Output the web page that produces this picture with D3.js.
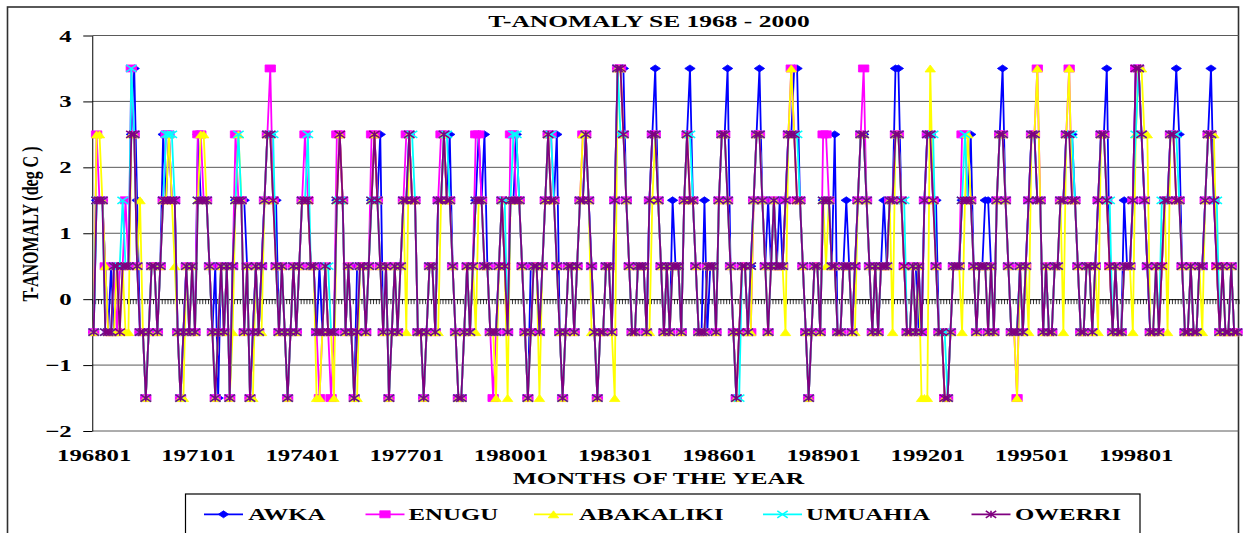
<!DOCTYPE html>
<html>
<head>
<meta charset="utf-8">
<script src="https://cdn.jsdelivr.net/npm/d3@7"></script>
<style>
  html, body { margin: 0; padding: 0; background: #fff; }
  svg { display: block; }
  text { font-family: "Liberation Serif", "Times New Roman", serif; font-weight: bold; fill: #000; }
</style>
</head>
<body>
<svg id="chart" width="1244" height="533"></svg>
<script>
// ---------------- DATA ----------------
const firstYear = 1968;
const lastYear = 2000;
const tickLabels = ["196801","197101","197401","197701","198001","198301","198601","198901","199201","199501","199801"];
const yTicks = [-2, -1, 0, 1, 2, 3, 4];
const seriesNames = ["AWKA", "ENUGU", "ABAKALIKI", "UMUAHIA", "OWERRI"];

// monthly anomalies (deg C), one row per year Jan..Dec
const AWKA = [
 -0.5,1.5,1.5,1.5,0.5,-0.5,0.5,-0.5,-0.5,0.5,0.5,0.5,
 0.5,2.5,3.5,1.5,-0.5,-0.5,-1.5,-0.5,0.5,0.5,-0.5,0.5,
 2.5,1.5,2.5,1.5,1.5,-0.5,-1.5,-0.5,0.5,0.5,0.5,-0.5,
 2.5,1.5,1.5,1.5,0.5,-0.5,0.5,-1.5,0.5,-0.5,0.5,-1.5,
 0.5,1.5,1.5,1.5,1.5,0.5,-1.5,-0.5,0.5,-0.5,0.5,1.5,
 2.5,2.5,1.5,1.5,-0.5,0.5,-0.5,-1.5,-0.5,0.5,-0.5,0.5,
 1.5,1.5,1.5,0.5,0.5,-0.5,0.5,-0.5,0.5,-0.5,-0.5,-0.5,
 1.5,2.5,1.5,-0.5,0.5,-0.5,-1.5,0.5,0.5,0.5,-0.5,0.5,
 1.5,2.5,1.5,2.5,-0.5,0.5,-1.5,-0.5,0.5,0.5,0.5,1.5,
 1.5,2.5,1.5,1.5,-0.5,-0.5,-1.5,-0.5,0.5,0.5,-0.5,1.5,
 1.5,2.5,1.5,2.5,0.5,-0.5,-1.5,-1.5,-0.5,0.5,-0.5,0.5,
 1.5,2.5,1.5,2.5,0.5,-0.5,-0.5,-0.5,0.5,1.5,0.5,-0.5,
 1.5,1.5,2.5,1.5,0.5,-0.5,-1.5,0.5,0.5,0.5,-0.5,0.5,
 1.5,2.5,1.5,1.5,2.5,-0.5,-1.5,-0.5,0.5,0.5,-0.5,0.5,
 1.5,1.5,2.5,1.5,0.5,-0.5,-1.5,-0.5,-0.5,0.5,0.5,-0.5,
 1.5,3.5,3.5,3.5,1.5,0.5,-0.5,-0.5,0.5,0.5,0.5,-0.5,
 1.5,2.5,3.5,1.5,0.5,-0.5,0.5,-0.5,1.5,0.5,0.5,-0.5,
 1.5,2.5,3.5,1.5,0.5,-0.5,-0.5,1.5,-0.5,0.5,0.5,-0.5,
 1.5,2.5,2.5,3.5,0.5,-0.5,-1.5,-0.5,0.5,0.5,-0.5,0.5,
 1.5,2.5,3.5,1.5,0.5,1.5,0.5,1.5,0.5,1.5,0.5,1.5,
 2.5,2.5,3.5,3.5,1.5,0.5,-0.5,-1.5,-0.5,0.5,0.5,-0.5,
 1.5,1.5,1.5,0.5,2.5,-0.5,-0.5,0.5,1.5,0.5,-0.5,0.5,
 1.5,2.5,2.5,1.5,0.5,-0.5,0.5,-0.5,0.5,1.5,0.5,1.5,
 1.5,3.5,3.5,1.5,0.5,-0.5,-0.5,0.5,0.5,-0.5,-0.5,1.5,
 2.5,2.5,1.5,1.5,-0.5,-0.5,-1.5,-1.5,-0.5,0.5,0.5,0.5,
 1.5,1.5,1.5,2.5,0.5,-0.5,0.5,0.5,1.5,1.5,0.5,-0.5,
 1.5,2.5,3.5,1.5,0.5,-0.5,-0.5,-0.5,0.5,-0.5,0.5,1.5,
 2.5,2.5,1.5,1.5,-0.5,0.5,-0.5,-0.5,0.5,0.5,1.5,1.5,
 2.5,2.5,2.5,1.5,0.5,-0.5,-0.5,0.5,0.5,-0.5,0.5,1.5,
 2.5,2.5,3.5,0.5,-0.5,0.5,-0.5,-0.5,1.5,0.5,0.5,1.5,
 3.5,3.5,2.5,1.5,0.5,-0.5,-0.5,-0.5,-0.5,0.5,1.5,1.5,
 2.5,2.5,3.5,2.5,0.5,-0.5,-0.5,0.5,-0.5,-0.5,0.5,0.5,
 1.5,2.5,3.5,1.5,0.5,-0.5,-0.5,-0.5,-0.5,0.5,-0.5,-0.5
];
const ENUGU = [
 -0.5,2.5,1.5,1.5,0.5,-0.5,-0.5,0.5,-0.5,0.5,0.5,1.5,
 0.5,3.5,2.5,0.5,-0.5,-0.5,-1.5,-0.5,0.5,0.5,-0.5,0.5,
 1.5,2.5,2.5,1.5,1.5,-0.5,-1.5,-0.5,0.5,-0.5,0.5,-0.5,
 2.5,2.5,1.5,1.5,0.5,-0.5,-1.5,-0.5,0.5,-0.5,0.5,-1.5,
 0.5,2.5,1.5,1.5,-0.5,0.5,-1.5,-0.5,0.5,-0.5,0.5,1.5,
 2.5,3.5,1.5,0.5,-0.5,0.5,-0.5,-1.5,-0.5,0.5,-0.5,0.5,
 1.5,2.5,1.5,0.5,0.5,-0.5,-1.5,-0.5,0.5,-0.5,-1.5,-0.5,
 2.5,2.5,1.5,-0.5,0.5,-0.5,-1.5,-0.5,0.5,0.5,-0.5,0.5,
 2.5,2.5,1.5,0.5,-0.5,0.5,-1.5,-0.5,0.5,-0.5,0.5,1.5,
 2.5,2.5,1.5,1.5,-0.5,-0.5,-1.5,-0.5,0.5,0.5,-0.5,1.5,
 2.5,2.5,1.5,1.5,0.5,-0.5,-1.5,-1.5,-0.5,0.5,-0.5,0.5,
 2.5,2.5,1.5,0.5,0.5,-0.5,-1.5,-0.5,0.5,1.5,0.5,-0.5,
 2.5,2.5,1.5,1.5,0.5,-0.5,-1.5,-0.5,0.5,0.5,-0.5,0.5,
 1.5,2.5,2.5,1.5,0.5,-0.5,-1.5,-0.5,0.5,0.5,-0.5,0.5,
 1.5,2.5,2.5,1.5,0.5,-0.5,-1.5,-0.5,-0.5,0.5,0.5,-0.5,
 1.5,3.5,3.5,2.5,1.5,0.5,-0.5,-0.5,0.5,0.5,0.5,-0.5,
 1.5,2.5,2.5,1.5,0.5,-0.5,0.5,-0.5,0.5,0.5,0.5,-0.5,
 1.5,2.5,1.5,1.5,0.5,-0.5,-0.5,-0.5,0.5,0.5,0.5,-0.5,
 1.5,2.5,2.5,1.5,0.5,-0.5,-1.5,-0.5,0.5,0.5,-0.5,-0.5,
 1.5,2.5,2.5,1.5,0.5,-0.5,0.5,1.5,0.5,0.5,0.5,1.5,
 2.5,3.5,2.5,1.5,1.5,0.5,-0.5,-1.5,-0.5,0.5,0.5,-0.5,
 2.5,2.5,1.5,0.5,0.5,-0.5,-0.5,0.5,0.5,0.5,-0.5,0.5,
 1.5,2.5,3.5,1.5,0.5,-0.5,0.5,-0.5,0.5,0.5,0.5,1.5,
 1.5,2.5,2.5,1.5,0.5,-0.5,-0.5,0.5,-0.5,0.5,-0.5,1.5,
 2.5,2.5,1.5,0.5,-0.5,-0.5,-1.5,-1.5,-0.5,0.5,0.5,0.5,
 2.5,2.5,1.5,1.5,0.5,-0.5,0.5,0.5,0.5,-0.5,0.5,-0.5,
 1.5,2.5,2.5,1.5,0.5,-0.5,-0.5,-1.5,0.5,-0.5,0.5,1.5,
 2.5,2.5,3.5,1.5,-0.5,0.5,-0.5,-0.5,0.5,0.5,1.5,1.5,
 2.5,3.5,1.5,1.5,0.5,-0.5,-0.5,0.5,0.5,-0.5,0.5,1.5,
 2.5,2.5,1.5,0.5,-0.5,0.5,-0.5,-0.5,0.5,0.5,0.5,1.5,
 3.5,3.5,2.5,1.5,0.5,-0.5,-0.5,0.5,-0.5,0.5,1.5,1.5,
 2.5,2.5,1.5,1.5,0.5,-0.5,-0.5,0.5,-0.5,-0.5,0.5,0.5,
 1.5,2.5,2.5,1.5,0.5,-0.5,0.5,-0.5,-0.5,0.5,-0.5,-0.5
];
const ABAKALIKI = [
 -0.5,2.5,2.5,1.5,0.5,-0.5,-0.5,-0.5,0.5,-0.5,0.5,-0.5,
 -0.5,2.5,2.5,0.5,1.5,-0.5,-1.5,-0.5,0.5,0.5,-0.5,0.5,
 1.5,1.5,2.5,1.5,0.5,-0.5,-1.5,-1.5,0.5,-0.5,0.5,-0.5,
 1.5,2.5,2.5,1.5,0.5,-0.5,-1.5,-0.5,0.5,-0.5,0.5,-1.5,
 -0.5,1.5,2.5,1.5,-0.5,0.5,-1.5,-1.5,0.5,-0.5,-0.5,1.5,
 2.5,2.5,1.5,0.5,-0.5,0.5,-0.5,-1.5,-0.5,0.5,-0.5,0.5,
 1.5,1.5,1.5,0.5,0.5,-1.5,-1.5,-0.5,0.5,-0.5,-0.5,-1.5,
 1.5,2.5,1.5,-0.5,0.5,-0.5,-1.5,-1.5,0.5,0.5,-0.5,0.5,
 1.5,2.5,1.5,0.5,-0.5,0.5,-1.5,-0.5,0.5,-0.5,0.5,1.5,
 -0.5,2.5,1.5,1.5,-0.5,-0.5,-1.5,-0.5,0.5,0.5,-0.5,-0.5,
 1.5,2.5,1.5,1.5,0.5,-0.5,-1.5,-1.5,-0.5,0.5,-0.5,0.5,
 -0.5,1.5,1.5,0.5,0.5,-0.5,-0.5,-1.5,0.5,1.5,0.5,-1.5,
 1.5,1.5,1.5,1.5,0.5,-0.5,-1.5,-0.5,0.5,0.5,-1.5,0.5,
 1.5,2.5,1.5,1.5,0.5,-0.5,-1.5,-0.5,0.5,0.5,-0.5,0.5,
 1.5,2.5,2.5,1.5,-0.5,-0.5,-1.5,-0.5,-0.5,0.5,0.5,-0.5,
 -1.5,3.5,3.5,2.5,1.5,0.5,-0.5,-0.5,0.5,0.5,0.5,-0.5,
 -0.5,1.5,2.5,1.5,0.5,-0.5,0.5,-0.5,0.5,0.5,0.5,-0.5,
 1.5,2.5,1.5,1.5,0.5,-0.5,-0.5,-0.5,0.5,0.5,0.5,-0.5,
 1.5,2.5,2.5,1.5,0.5,-0.5,-1.5,-0.5,0.5,0.5,-0.5,-0.5,
 1.5,2.5,2.5,1.5,0.5,-0.5,0.5,1.5,0.5,0.5,0.5,-0.5,
 2.5,3.5,2.5,1.5,1.5,0.5,-0.5,-1.5,-0.5,0.5,0.5,-0.5,
 1.5,0.5,1.5,0.5,0.5,-0.5,-0.5,0.5,0.5,0.5,-0.5,-0.5,
 1.5,2.5,2.5,1.5,0.5,-0.5,0.5,-0.5,0.5,0.5,0.5,1.5,
 -0.5,2.5,2.5,1.5,0.5,-0.5,-0.5,0.5,-0.5,0.5,-1.5,-1.5,
 -1.5,3.5,1.5,0.5,-0.5,-0.5,-1.5,-1.5,-0.5,0.5,0.5,0.5,
 -0.5,1.5,2.5,1.5,0.5,-0.5,0.5,0.5,0.5,-0.5,0.5,-0.5,
 1.5,2.5,2.5,1.5,0.5,-0.5,-0.5,-1.5,0.5,-0.5,0.5,-0.5,
 2.5,2.5,3.5,1.5,-0.5,0.5,-0.5,-0.5,0.5,0.5,1.5,-0.5,
 2.5,3.5,1.5,1.5,0.5,-0.5,-0.5,0.5,0.5,-0.5,0.5,-0.5,
 2.5,2.5,1.5,0.5,-0.5,0.5,-0.5,-0.5,0.5,0.5,0.5,-0.5,
 2.5,3.5,3.5,2.5,2.5,-0.5,-0.5,0.5,-0.5,0.5,1.5,-0.5,
 2.5,2.5,1.5,1.5,0.5,-0.5,-0.5,0.5,-0.5,-0.5,0.5,-0.5,
 1.5,2.5,2.5,2.5,0.5,-0.5,0.5,-0.5,-0.5,0.5,-0.5,-0.5
];
const UMUAHIA = [
 -0.5,1.5,1.5,1.5,-0.5,-0.5,-0.5,0.5,0.5,0.5,1.5,0.5,
 0.5,3.5,2.5,0.5,-0.5,-0.5,-1.5,-0.5,0.5,0.5,-0.5,0.5,
 1.5,2.5,2.5,2.5,1.5,-0.5,-1.5,-0.5,0.5,-0.5,0.5,-0.5,
 1.5,1.5,1.5,1.5,0.5,-0.5,-1.5,-0.5,0.5,-0.5,0.5,-1.5,
 0.5,1.5,2.5,1.5,-0.5,0.5,-1.5,-0.5,0.5,-0.5,0.5,1.5,
 2.5,2.5,2.5,0.5,-0.5,0.5,-0.5,-1.5,-0.5,0.5,-0.5,0.5,
 1.5,1.5,2.5,0.5,0.5,-0.5,-0.5,-0.5,0.5,0.5,-0.5,-0.5,
 1.5,1.5,1.5,-0.5,0.5,-0.5,-1.5,-0.5,0.5,0.5,-0.5,0.5,
 1.5,1.5,1.5,0.5,-0.5,0.5,-1.5,-0.5,0.5,-0.5,0.5,1.5,
 1.5,2.5,2.5,1.5,-0.5,-0.5,-1.5,-0.5,0.5,0.5,-0.5,1.5,
 1.5,2.5,2.5,1.5,0.5,-0.5,-1.5,-1.5,-0.5,0.5,-0.5,0.5,
 1.5,1.5,1.5,0.5,0.5,-0.5,-0.5,-0.5,0.5,1.5,1.5,-0.5,
 1.5,2.5,2.5,1.5,0.5,-0.5,-1.5,-0.5,0.5,0.5,-0.5,0.5,
 1.5,2.5,2.5,1.5,0.5,-0.5,-1.5,-0.5,0.5,0.5,-0.5,0.5,
 1.5,1.5,2.5,1.5,0.5,-0.5,-1.5,-0.5,-0.5,0.5,0.5,-0.5,
 1.5,3.5,2.5,2.5,1.5,0.5,-0.5,-0.5,0.5,0.5,0.5,-0.5,
 1.5,2.5,2.5,1.5,0.5,-0.5,0.5,-0.5,0.5,0.5,0.5,-0.5,
 1.5,2.5,2.5,1.5,0.5,-0.5,-0.5,-0.5,0.5,0.5,0.5,-0.5,
 1.5,2.5,2.5,1.5,0.5,-0.5,-1.5,-1.5,0.5,0.5,-0.5,0.5,
 1.5,2.5,2.5,1.5,0.5,-0.5,0.5,1.5,0.5,0.5,0.5,1.5,
 2.5,2.5,2.5,2.5,1.5,0.5,-0.5,-1.5,-0.5,0.5,0.5,-0.5,
 1.5,1.5,1.5,0.5,0.5,-0.5,-0.5,0.5,0.5,0.5,-0.5,0.5,
 1.5,2.5,2.5,1.5,0.5,-0.5,0.5,-0.5,0.5,0.5,0.5,1.5,
 1.5,2.5,2.5,1.5,1.5,-0.5,-0.5,0.5,-0.5,0.5,-0.5,1.5,
 2.5,2.5,2.5,0.5,-0.5,-0.5,-0.5,-1.5,-0.5,0.5,0.5,0.5,
 1.5,2.5,1.5,1.5,0.5,-0.5,0.5,0.5,0.5,-0.5,0.5,-0.5,
 1.5,2.5,2.5,1.5,0.5,-0.5,-0.5,-0.5,0.5,-0.5,0.5,1.5,
 2.5,2.5,1.5,1.5,-0.5,0.5,-0.5,-0.5,0.5,0.5,1.5,1.5,
 2.5,2.5,2.5,1.5,0.5,-0.5,-0.5,0.5,0.5,-0.5,0.5,1.5,
 2.5,2.5,1.5,1.5,-0.5,0.5,-0.5,-0.5,0.5,0.5,0.5,1.5,
 2.5,3.5,2.5,1.5,0.5,-0.5,-0.5,0.5,-0.5,1.5,1.5,1.5,
 2.5,2.5,2.5,1.5,0.5,-0.5,-0.5,0.5,-0.5,-0.5,0.5,0.5,
 1.5,2.5,2.5,1.5,1.5,-0.5,0.5,-0.5,-0.5,0.5,-0.5,-0.5
];
const OWERRI = [
 -0.5,1.5,1.5,1.5,-0.5,-0.5,-0.5,0.5,0.5,-0.5,0.5,0.5,
 0.5,2.5,2.5,0.5,-0.5,-0.5,-1.5,-0.5,0.5,0.5,-0.5,0.5,
 1.5,1.5,1.5,1.5,1.5,-0.5,-1.5,-0.5,0.5,-0.5,0.5,-0.5,
 1.5,1.5,1.5,1.5,0.5,-0.5,-1.5,-0.5,0.5,-0.5,0.5,-1.5,
 0.5,1.5,1.5,1.5,-0.5,0.5,-1.5,-0.5,0.5,-0.5,0.5,1.5,
 2.5,2.5,1.5,0.5,-0.5,0.5,-0.5,-1.5,-0.5,0.5,-0.5,0.5,
 1.5,1.5,1.5,0.5,0.5,-0.5,-0.5,-0.5,0.5,-0.5,-0.5,-0.5,
 1.5,2.5,1.5,-0.5,0.5,-0.5,-1.5,-0.5,0.5,0.5,-0.5,0.5,
 1.5,2.5,1.5,0.5,-0.5,0.5,-1.5,-0.5,0.5,-0.5,0.5,1.5,
 1.5,2.5,1.5,1.5,-0.5,-0.5,-1.5,-0.5,0.5,0.5,-0.5,1.5,
 1.5,2.5,1.5,1.5,0.5,-0.5,-1.5,-1.5,-0.5,0.5,-0.5,0.5,
 1.5,1.5,1.5,0.5,0.5,-0.5,-0.5,-0.5,0.5,1.5,0.5,-0.5,
 1.5,1.5,1.5,1.5,0.5,-0.5,-1.5,-0.5,0.5,0.5,-0.5,0.5,
 1.5,2.5,1.5,1.5,0.5,-0.5,-1.5,-0.5,0.5,0.5,-0.5,0.5,
 1.5,1.5,2.5,1.5,0.5,-0.5,-1.5,-0.5,-0.5,0.5,0.5,-0.5,
 1.5,3.5,3.5,2.5,1.5,0.5,-0.5,-0.5,0.5,0.5,0.5,-0.5,
 1.5,2.5,2.5,1.5,0.5,-0.5,0.5,-0.5,0.5,0.5,0.5,-0.5,
 1.5,2.5,1.5,1.5,0.5,-0.5,-0.5,-0.5,0.5,0.5,0.5,-0.5,
 1.5,2.5,2.5,1.5,0.5,-0.5,-1.5,-0.5,0.5,0.5,-0.5,0.5,
 1.5,2.5,2.5,1.5,0.5,-0.5,0.5,1.5,0.5,0.5,0.5,1.5,
 2.5,2.5,2.5,1.5,1.5,0.5,-0.5,-1.5,-0.5,0.5,0.5,-0.5,
 1.5,1.5,1.5,0.5,0.5,-0.5,-0.5,0.5,0.5,0.5,-0.5,0.5,
 1.5,2.5,2.5,1.5,0.5,-0.5,0.5,-0.5,0.5,0.5,0.5,1.5,
 1.5,2.5,2.5,1.5,0.5,-0.5,-0.5,0.5,-0.5,0.5,-0.5,1.5,
 2.5,2.5,1.5,0.5,-0.5,-0.5,-1.5,-1.5,-0.5,0.5,0.5,0.5,
 1.5,1.5,1.5,1.5,0.5,-0.5,0.5,0.5,0.5,-0.5,0.5,-0.5,
 1.5,2.5,2.5,1.5,0.5,-0.5,-0.5,-0.5,0.5,-0.5,0.5,1.5,
 2.5,2.5,1.5,1.5,-0.5,0.5,-0.5,-0.5,0.5,0.5,1.5,1.5,
 2.5,2.5,1.5,1.5,0.5,-0.5,-0.5,0.5,0.5,-0.5,0.5,1.5,
 2.5,2.5,1.5,0.5,-0.5,0.5,-0.5,-0.5,0.5,0.5,0.5,1.5,
 3.5,3.5,2.5,1.5,0.5,-0.5,-0.5,0.5,-0.5,0.5,1.5,1.5,
 2.5,2.5,1.5,1.5,0.5,-0.5,-0.5,0.5,-0.5,-0.5,0.5,0.5,
 1.5,2.5,2.5,1.5,0.5,-0.5,0.5,-0.5,-0.5,0.5,-0.5,-0.5
];

// ---------------- CHART ----------------
const categories = [];
for (let yr = firstYear; yr <= lastYear; yr++) {
  for (let m = 1; m <= 12; m++) categories.push(String(yr) + (m < 10 ? "0" : "") + m);
}

const series = [
  { name: seriesNames[0], values: AWKA,      color: "#0000FF", marker: "diamond" },
  { name: seriesNames[1], values: ENUGU,     color: "#FF00FF", marker: "square" },
  { name: seriesNames[2], values: ABAKALIKI, color: "#FFFF00", marker: "triangle" },
  { name: seriesNames[3], values: UMUAHIA,   color: "#00FFFF", marker: "x" },
  { name: seriesNames[4], values: OWERRI,    color: "#800080", marker: "star" }
];

const SX = 1.46; // horizontal stretch of the original picture
const svg = d3.select("#chart");
const L = 92.25, R = 1238.5, T = 35.5, B = 431;

const x = d3.scalePoint().domain(categories).range([L, R]).padding(0.5);
const xb = d3.scaleLinear().domain([0, categories.length]).range([L, R]);
const y = d3.scaleLinear().domain([-2, 4]).range([B, T]);

svg.append("rect").attr("width", 1244).attr("height", 533).attr("fill", "#fff");
// outer chart border
svg.append("rect").attr("x", 7.5).attr("y", 7).attr("width", 1231).attr("height", 560)
  .attr("fill", "none").attr("stroke", "#303030").attr("stroke-width", 1.6);

function stretchedText(g, tx, ty, str, size, anchor, sx, rot) {
  return g.append("text")
    .attr("transform", `translate(${tx},${ty}) scale(${sx || SX},1)` + (rot ? ` rotate(${rot})` : ""))
    .attr("text-anchor", anchor || "middle")
    .style("font-size", size + "px")
    .text(str);
}

// gridlines
svg.append("g").selectAll("line").data(yTicks.filter(v => v !== 0)).join("line")
  .attr("x1", L).attr("x2", R)
  .attr("y1", d => y(d)).attr("y2", d => y(d))
  .attr("stroke", "#5a5a5a").attr("stroke-width", 1);

// y axis
const yAxis = svg.append("g").attr("transform", `translate(${L},0)`)
  .call(d3.axisLeft(y).tickValues(yTicks).tickSize(9).tickSizeOuter(0).tickFormat(""));
yAxis.select(".domain").attr("stroke", "#000");
yAxis.selectAll(".tick line").attr("stroke", "#000");
yAxis.selectAll(".tick").each(function(d) {
  stretchedText(d3.select(this), -20.5, 5.5, d3.format("d")(d), 17, "end");
});

// x axis line with a tick between every month
const xAxis = svg.append("g").attr("transform", `translate(0,${y(0)})`)
  .call(d3.axisBottom(xb).tickValues(d3.range(0, categories.length + 1)).tickSize(5).tickSizeOuter(0).tickFormat(""));
xAxis.select(".domain").attr("stroke", "#000");
xAxis.selectAll(".tick line").attr("stroke", "#000").attr("stroke-width", 0.8);

// x tick labels at the bottom of plot
const xLab = svg.append("g").attr("transform", `translate(0,${B})`)
  .call(d3.axisBottom(x).tickValues(tickLabels).tickSize(0).tickFormat(""));
xLab.select(".domain").remove();
xLab.selectAll(".tick").each(function(d) {
  stretchedText(d3.select(this), 0, 29.5, d, 17, "middle");
});

// series
const lineGen = d3.line().x((d, i) => x(categories[i])).y(d => y(d));
function markerPath(type) {
  const w = 5.2, h = 3.5;
  switch (type) {
    case "diamond": return `M0,${-h}L${w},0L0,${h}L${-w},0Z`;
    case "square": return `M${-w},${-h}H${w}V${h}H${-w}Z`;
    case "triangle": return `M0,${-h}L${w},${h}L${-w},${h}Z`;
    case "x": return `M${-w},${-h}L${w},${h}M${-w},${h}L${w},${-h}`;
    case "star": return `M${-w},${-h}L${w},${h}M${-w},${h}L${w},${-h}M0,${-h}V${h}`;
  }
}
function drawMarker(g, s, cx, cy) {
  const filled = (s.marker === "diamond" || s.marker === "square" || s.marker === "triangle");
  g.append("path").attr("d", markerPath(s.marker))
    .attr("transform", `translate(${cx},${cy})`)
    .attr("fill", filled ? s.color : "none")
    .attr("stroke", s.color)
    .attr("stroke-width", filled ? 0.8 : 1.6);
}

const plot = svg.append("g");
series.forEach(s => {
  const g = plot.append("g");
  g.append("path").datum(s.values).attr("d", lineGen)
    .attr("fill", "none").attr("stroke", s.color).attr("stroke-width", 1.8)
    .attr("stroke-linejoin", "miter");
  const mg = g.append("g");
  s.values.forEach((v, i) => drawMarker(mg, s, x(categories[i]), y(v)));
});

// titles
stretchedText(svg, 649, 26.7, "T-ANOMALY SE 1968 - 2000", 17, "middle", 1.5);
stretchedText(svg, 658.5, 483.5, "MONTHS OF THE YEAR", 17, "middle", 1.5);
stretchedText(svg, 37.5, 224, "T-ANOMALY (deg C )", 16, "middle", 1.5, -90);

// legend
const lg = svg.append("g");
lg.append("rect").attr("x", 185.5).attr("y", 494).attr("width", 954.5).attr("height", 60)
  .attr("fill", "#fff").attr("stroke", "#000").attr("stroke-width", 1.2);
const legendLineStart = [204, 365.5, 534, 763, 971.5];
const legendTextStart = [248.3, 408.5, 579, 806, 1015];
series.forEach((s, k) => {
  const x0 = legendLineStart[k];
  lg.append("line").attr("x1", x0).attr("x2", x0 + 39).attr("y1", 514.3).attr("y2", 514.3)
    .attr("stroke", s.color).attr("stroke-width", 1.8);
  drawMarker(lg, s, x0 + 19.5, 514.3);
  stretchedText(lg, legendTextStart[k], 520, s.name, 17, "start");
});
</script>
</body>
</html>
